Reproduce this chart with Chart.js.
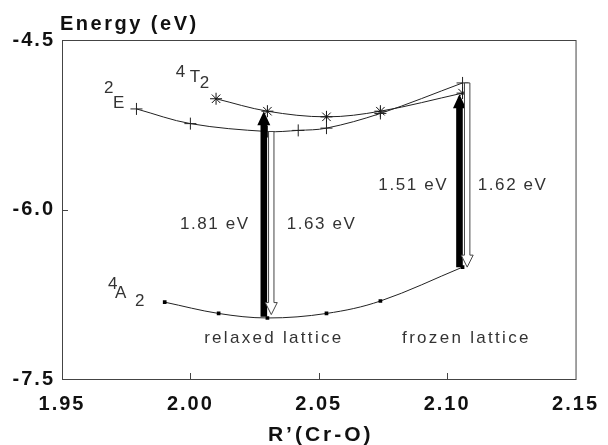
<!DOCTYPE html>
<html>
<head>
<meta charset="utf-8">
<script src="https://cdn.jsdelivr.net/npm/chart.js@4.4.1/dist/chart.umd.min.js"></script>
<style>
  html, body { margin: 0; padding: 0; background: #fff; }
</style>
</head>
<body>
<canvas id="chart" width="608" height="445"></canvas>
<script>
// axis ticks
const xTicks = [1.95, 2.00, 2.05, 2.10, 2.15];
const yTicks = [-7.5, -6.0, -4.5];

// 4T2 state (asterisks)
const t2X = [2.010, 2.030, 2.053, 2.074, 2.106];
const t2Y = [-5.02, -5.13, -5.18, -5.13, -4.97];

// 2E state (plus markers)
const eX = [1.979, 2.000, 2.030, 2.042, 2.053, 2.074, 2.106];
const eY = [-5.11, -5.24, -5.31, -5.30, -5.28, -5.15, -4.88];

// 4A2 ground state (small squares)
const a2X = [1.990, 2.011, 2.030, 2.053, 2.074, 2.106];
const a2Y = [-6.82, -6.92, -6.96, -6.92, -6.81, -6.51];

// transitions: absorption (solid) and emission (hollow)
const arrowX    = [2.0286, 2.0315, 2.1048, 2.1078];
const arrowFrom = [-6.95, -5.31, -6.51, -4.88];
const arrowTo   = [-5.13, -6.93, -4.98, -6.51];
const arrowKind = ['solid', 'hollow', 'solid', 'hollow'];

// energy labels
const gapText = ['1.81 eV', '1.63 eV', '1.51 eV', '1.62 eV'];
const gapX    = [2.0095, 2.0511, 2.0868, 2.1255];
const gapY    = [-6.173, -6.173, -5.827, -5.827];

const latticeText = ['relaxed lattice', 'frozen lattice'];
const latticeX    = [2.0325, 2.1075];
const latticeY    = [-7.181, -7.181];

const toXY = (xs, ys) => xs.map((x, i) => ({ x: x, y: ys[i] }));

// term symbols, anchored at the superscript, pieces offset in px
const stateLabels = [
  { x: 1.9943, y: -4.827, parts: [['4', 0, 0], ['T', 14, 5], ['2', 24, 11]] },
  { x: 1.9664, y: -4.969, parts: [['2', 0, 0], ['E', 9, 15]] },
  { x: 1.9679, y: -6.704, parts: [['4', 0, 0], ['A', 7, 9], ['2', 27, 17]] }
];

function drawArrow(ctx, x, y0, yt, kind) {
  const d = yt > y0 ? 1 : -1;
  const solid = kind === 'solid';
  const sw = solid ? 3.3 : 2.7;
  const hw = solid ? 6.5 : 6;
  const hl = solid ? 14 : 12;
  const yb = yt - d * hl;
  ctx.beginPath();
  ctx.moveTo(x - sw, y0);
  ctx.lineTo(x - sw, yb);
  ctx.lineTo(x - hw, yb);
  ctx.lineTo(x, yt);
  ctx.lineTo(x + hw, yb);
  ctx.lineTo(x + sw, yb);
  ctx.lineTo(x + sw, y0);
  ctx.closePath();
  if (solid) {
    ctx.fillStyle = '#000';
    ctx.fill();
  } else {
    ctx.fillStyle = '#fff';
    ctx.fill();
    ctx.strokeStyle = '#444';
    ctx.lineWidth = 1;
    ctx.stroke();
  }
}

const decorations = {
  id: 'decorations',
  beforeDraw(chart) {
    chart.ctx.letterSpacing = '2px';
  },
  beforeDatasetsDraw(chart) {
    const { ctx, chartArea: a, scales: { x, y } } = chart;
    ctx.save();
    ctx.strokeStyle = '#444';
    ctx.lineWidth = 1;
    ctx.strokeRect(a.left + 0.5, a.top + 0.5, a.right - a.left, a.bottom - a.top);
    // inward tick marks
    ctx.beginPath();
    xTicks.slice(1, -1).forEach(v => {
      const px = Math.round(x.getPixelForValue(v)) + 0.5;
      ctx.moveTo(px, a.bottom);
      ctx.lineTo(px, a.bottom - 6);
    });
    yTicks.slice(1, -1).forEach(v => {
      const py = Math.round(y.getPixelForValue(v)) + 0.5;
      ctx.moveTo(a.left, py);
      ctx.lineTo(a.left + 6, py);
    });
    ctx.stroke();
    ctx.restore();
  },
  afterDatasetsDraw(chart) {
    const { ctx, scales: { x, y } } = chart;
    ctx.save();
    arrowX.forEach((v, i) => {
      drawArrow(ctx, x.getPixelForValue(v), y.getPixelForValue(arrowFrom[i]),
        y.getPixelForValue(arrowTo[i]), arrowKind[i]);
    });
    ctx.restore();
  },
  afterDraw(chart) {
    const { ctx, chartArea: a, scales: { x, y } } = chart;
    ctx.save();
    ctx.fillStyle = '#333';
    ctx.textBaseline = 'alphabetic';

    ctx.font = '17px "Liberation Sans", Arial, sans-serif';
    ctx.letterSpacing = '1.6px';
    ctx.textAlign = 'center';
    gapText.forEach((t, i) => {
      ctx.fillText(t, x.getPixelForValue(gapX[i]), y.getPixelForValue(gapY[i]));
    });
    ctx.letterSpacing = '2.3px';
    latticeText.forEach((t, i) => {
      ctx.fillText(t, x.getPixelForValue(latticeX[i]), y.getPixelForValue(latticeY[i]));
    });

    ctx.textAlign = 'left';
    ctx.letterSpacing = '0px';
    stateLabels.forEach(s => {
      const px = x.getPixelForValue(s.x);
      const py = y.getPixelForValue(s.y);
      s.parts.forEach(p => ctx.fillText(p[0], px + p[1], py + p[2]));
    });

    // axis titles
    ctx.fillStyle = '#111';
    ctx.font = 'bold 20px "Liberation Sans", Arial, sans-serif';
    ctx.letterSpacing = '2.5px';
    ctx.fillText('Energy (eV)', a.left - 2, a.top - 10);
    ctx.font = 'bold 21px "Liberation Sans", Arial, sans-serif';
    ctx.letterSpacing = '3px';
    ctx.textAlign = 'center';
    ctx.fillText('R\u2019(Cr-O)', (a.left + a.right) / 2 + 2, chart.height - 4);
    ctx.restore();
  }
};

const tickFont = { family: '"Liberation Sans", Arial, sans-serif', size: 20, weight: 'bold' };

new Chart(document.getElementById('chart'), {
  type: 'line',
  data: {
    datasets: [
      {
        label: '4A2',
        data: toXY(a2X, a2Y),
        borderColor: '#222',
        borderWidth: 1,
        tension: 0.35,
        pointStyle: 'rect',
        pointRadius: 2.6,
        pointBackgroundColor: '#000',
        pointBorderWidth: 0
      },
      {
        label: '2E',
        data: toXY(eX, eY),
        borderColor: '#222',
        borderWidth: 1,
        tension: 0.35,
        pointStyle: 'cross',
        pointRadius: 6,
        pointBorderColor: '#222',
        pointBorderWidth: 1
      },
      {
        label: '4T2',
        data: toXY(t2X, t2Y),
        borderColor: '#222',
        borderWidth: 1,
        tension: 0.35,
        pointStyle: 'star',
        pointRadius: 6,
        pointBorderColor: '#111',
        pointBorderWidth: 1
      }
    ]
  },
  options: {
    responsive: false,
    animation: false,
    events: [],
    layout: { padding: { top: 40, right: 23, left: 0, bottom: 0 } },
    plugins: {
      legend: { display: false },
      tooltip: { enabled: false }
    },
    scales: {
      x: {
        type: 'linear',
        min: 1.95,
        max: 2.15,
        grid: { display: false, drawTicks: false },
        border: { display: false },
        afterBuildTicks: s => { s.ticks = xTicks.map(v => ({ value: v })); },
        afterFit: s => { s.height = 66; },
        ticks: {
          color: '#111',
          font: tickFont,
          padding: 13,
          maxRotation: 0,
          autoSkip: false,
          callback: v => v.toFixed(2)
        }
      },
      y: {
        type: 'linear',
        min: -7.5,
        max: -4.5,
        grid: { display: false, drawTicks: false },
        border: { display: false },
        afterBuildTicks: s => { s.ticks = yTicks.map(v => ({ value: v })); },
        afterFit: s => { s.width = 62; },
        ticks: {
          color: '#111',
          font: tickFont,
          padding: 7,
          autoSkip: false,
          callback: v => v.toFixed(1)
        }
      }
    }
  },
  plugins: [decorations]
});
</script>
</body>
</html>
